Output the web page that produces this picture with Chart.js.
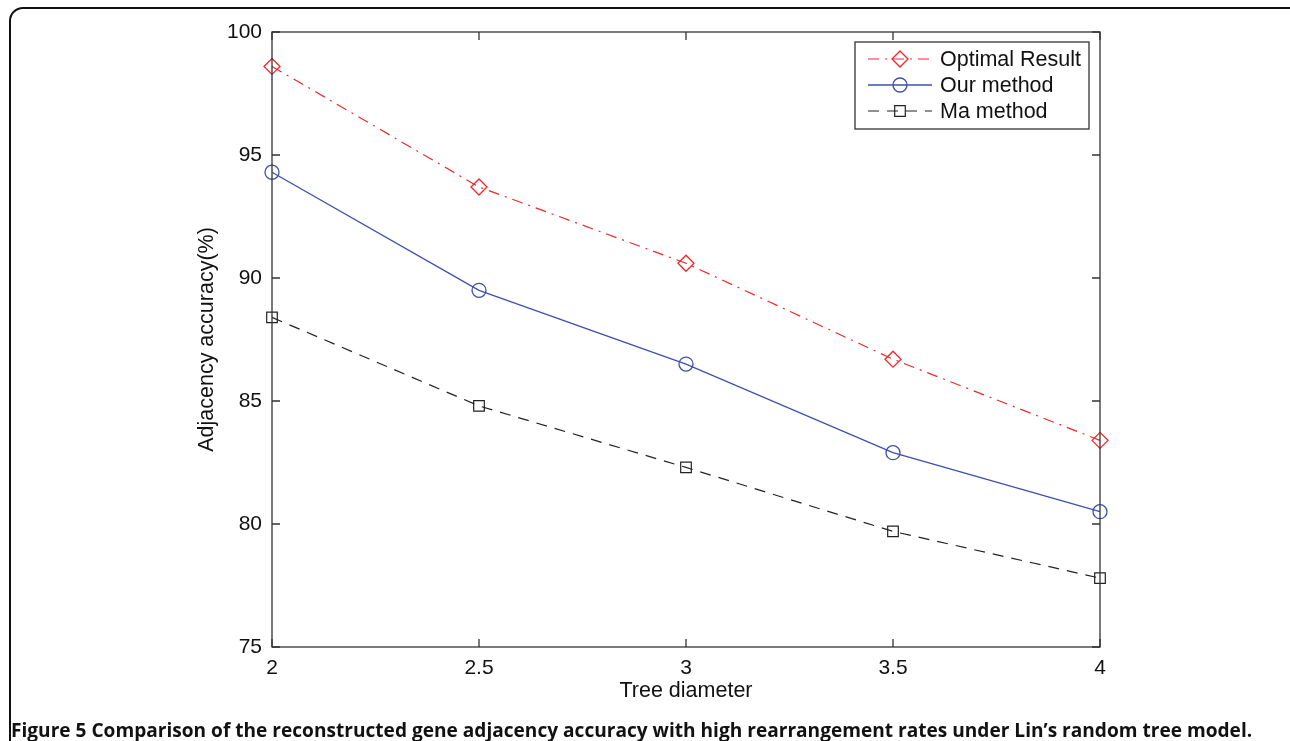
<!DOCTYPE html>
<html>
<head>
<meta charset="utf-8">
<script src="https://cdn.jsdelivr.net/npm/chart.js@4/dist/chart.umd.min.js"></script>
<style>
  html, body { margin: 0; padding: 0; background: #fff; }
  #wrap { position: relative; width: 1290px; height: 741px; overflow: hidden; }
  #frame { position: absolute; left: 9px; top: 7px; width: 1300px; height: 760px;
           border: 2px solid #111; border-radius: 14px; box-sizing: border-box; }
  #chart { position: absolute; left: 0; top: 0; }
  #caption { position: absolute; left: 11px; top: 717px; font-family: "Open Sans", sans-serif;
             font-weight: bold; font-size: 19.1px; color: #111; white-space: nowrap; }
</style>
</head>
<body>
<div id="wrap">
  <div id="frame"></div>
  <canvas id="chart" width="1290" height="741"></canvas>
  <div id="caption">Figure 5 Comparison of the reconstructed gene adjacency accuracy with high rearrangement rates under Lin’s random tree model.</div>
</div>
<script>
const diameters = [2, 2.5, 3, 3.5, 4];
const optimalResult = [98.6, 93.7, 90.6, 86.7, 83.4];
const ourMethod = [94.3, 89.5, 86.5, 82.9, 80.5];
const maMethod = [88.4, 84.8, 82.3, 79.7, 77.8];
const xTicks = [2, 2.5, 3, 3.5, 4];
const yTicks = [75, 80, 85, 90, 95, 100];

const axisColor = "#333";
const font = "Liberation Sans, Arial, sans-serif";

function pts(vals) {
  return vals.map((v, i) => ({ x: diameters[i], y: v }));
}

// box, inward ticks, axis titles and legend (matlab style)
const matlabBox = {
  id: "matlabBox",
  afterDatasetsDraw(chart) {
    const ctx = chart.ctx;
    const a = chart.chartArea;
    const xs = chart.scales.x, ys = chart.scales.y;
    ctx.save();
    ctx.strokeStyle = axisColor;
    ctx.lineWidth = 1.3;
    ctx.strokeRect(a.left, a.top, a.right - a.left, a.bottom - a.top);
    const tl = 8;
    ctx.beginPath();
    xTicks.forEach((t) => {
      const px = xs.getPixelForValue(t);
      ctx.moveTo(px, a.bottom); ctx.lineTo(px, a.bottom - tl);
      ctx.moveTo(px, a.top); ctx.lineTo(px, a.top + tl);
    });
    yTicks.forEach((t) => {
      const py = ys.getPixelForValue(t);
      ctx.moveTo(a.left, py); ctx.lineTo(a.left + tl, py);
      ctx.moveTo(a.right, py); ctx.lineTo(a.right - tl, py);
    });
    ctx.stroke();

    // axis titles
    ctx.fillStyle = "#111";
    ctx.font = "21.5px " + font;
    ctx.textAlign = "center";
    ctx.textBaseline = "middle";
    ctx.fillText("Tree diameter", (a.left + a.right) / 2, 691);
    ctx.save();
    ctx.translate(207, (a.top + a.bottom) / 2);
    ctx.rotate(-Math.PI / 2);
    ctx.fillText("Adjacency accuracy(%)", 0, 0);
    ctx.restore();

    // legend
    const lx = 855, ly = 42, lw = 234, lh = 87;
    ctx.fillStyle = "#fff";
    ctx.fillRect(lx, ly, lw, lh);
    ctx.strokeStyle = "#333";
    ctx.lineWidth = 1.3;
    ctx.strokeRect(lx, ly, lw, lh);
    const rows = [59, 85, 111];
    chart.data.datasets.forEach((ds, i) => {
      const y = rows[i];
      ctx.strokeStyle = ds.borderColor;
      ctx.lineWidth = ds.borderWidth;
      ctx.setLineDash(ds.borderDash || []);
      ctx.beginPath();
      ctx.moveTo(868, y); ctx.lineTo(932, y);
      ctx.stroke();
      ctx.setLineDash([]);
      ctx.fillStyle = "rgba(0,0,0,0)";
      ctx.lineWidth = ds.pointBorderWidth;
      Chart.helpers.drawPoint(ctx, {
        pointStyle: ds.pointStyle, radius: ds.pointRadius, borderWidth: ds.pointBorderWidth
      }, 900, y);
      ctx.fillStyle = "#111";
      ctx.font = "21.5px " + font;
      ctx.textAlign = "left";
      ctx.textBaseline = "middle";
      ctx.fillText(ds.label, 940, y + 1);
    });
    ctx.restore();
  }
};

new Chart(document.getElementById("chart"), {
  type: "line",
  data: {
    datasets: [
      {
        label: "Optimal Result",
        data: pts(optimalResult),
        borderColor: "#f0282a",
        borderWidth: 1.2,
        borderDash: [11, 6, 2, 6],
        pointStyle: "rectRot",
        pointRadius: 8,
        pointBorderWidth: 1.3,
        pointBorderColor: "#f0282a",
        pointBackgroundColor: "rgba(0,0,0,0)",
        clip: false,
      },
      {
        label: "Our method",
        data: pts(ourMethod),
        borderColor: "#3e4fae",
        borderWidth: 1.3,
        pointStyle: "circle",
        pointRadius: 7,
        pointBorderWidth: 1.3,
        pointBorderColor: "#3e4fae",
        pointBackgroundColor: "rgba(0,0,0,0)",
        clip: false,
      },
      {
        label: "Ma method",
        data: pts(maMethod),
        borderColor: "#222",
        borderWidth: 1.2,
        borderDash: [11, 8],
        pointStyle: "rect",
        pointRadius: 7.5,
        pointBorderWidth: 1.2,
        pointBorderColor: "#222",
        pointBackgroundColor: "rgba(0,0,0,0)",
        clip: false,
      },
    ],
  },
  options: {
    responsive: false,
    animation: false,
    layout: { padding: { top: 32, right: 190, left: 0, bottom: 0 } },
    plugins: { legend: { display: false }, tooltip: { enabled: false } },
    scales: {
      x: {
        type: "linear",
        min: 2,
        max: 4,
        afterBuildTicks: (s) => { s.ticks = xTicks.map((v) => ({ value: v })); },
        afterFit: (s) => { s.height = 94; },
        grid: { display: false },
        border: { display: false },
        ticks: { color: "#111", font: { family: font, size: 21 }, padding: 1,
                 callback: (v) => String(v) },
      },
      y: {
        min: 75,
        max: 100,
        afterBuildTicks: (s) => { s.ticks = yTicks.map((v) => ({ value: v })); },
        afterFit: (s) => { s.width = 272; },
        grid: { display: false },
        border: { display: false },
        ticks: { color: "#111", font: { family: font, size: 21 }, padding: 2,
                 callback: (v) => String(v) },
      },
    },
  },
  plugins: [matlabBox],
});
</script>
</body>
</html>
